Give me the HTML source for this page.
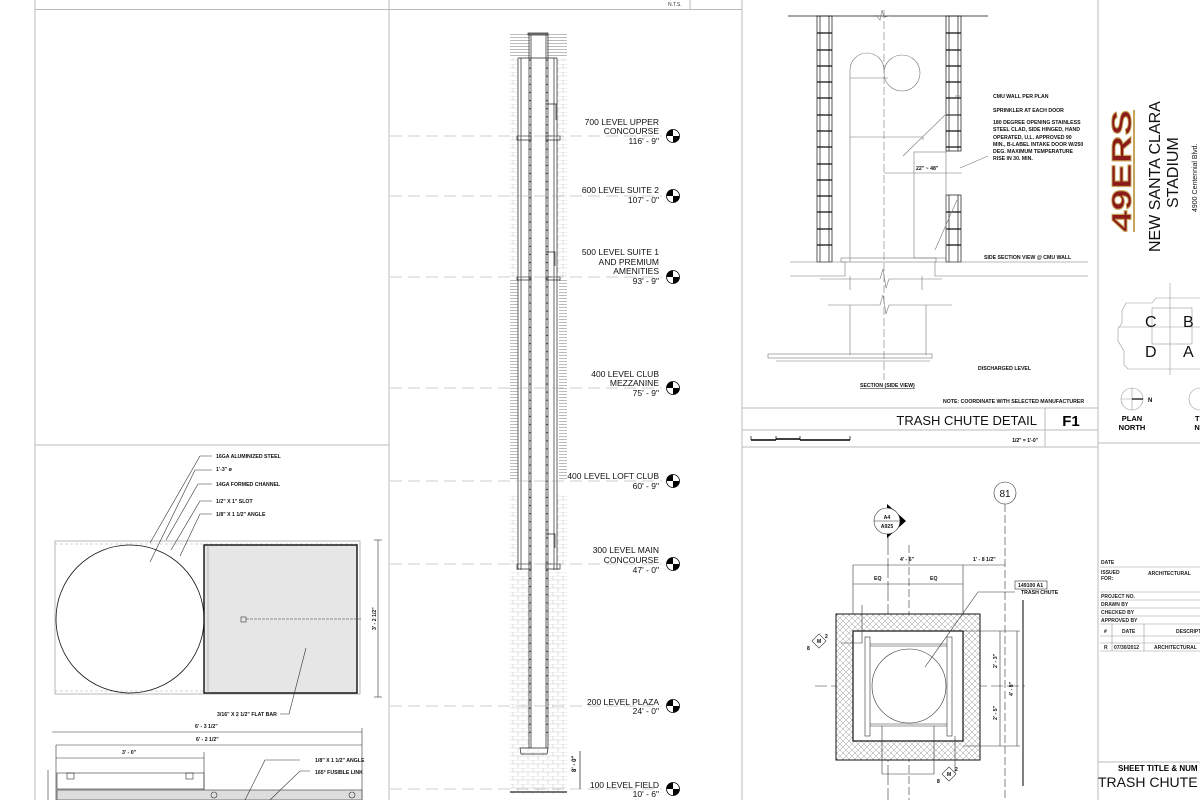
<!DOCTYPE html>
<html><head><meta charset="utf-8">
<style>
html,body{margin:0;padding:0;background:#fff;}
svg{display:block;font-family:"Liberation Sans",Arial,sans-serif;}
.t{font-size:7px;font-weight:bold;fill:#111;}
.lv{font-size:8.5px;fill:#111;}
</style></head><body>
<svg width="1200" height="800" viewBox="0 0 1200 800" xmlns="http://www.w3.org/2000/svg">
<defs>
<pattern id="brick" width="10" height="8" patternUnits="userSpaceOnUse">
<rect width="10" height="8" fill="#fff"/>
<path d="M0 0H10M0 4H10M3 0V4M8 4V8" stroke="#ccc" stroke-width="0.6"/>
</pattern>
<pattern id="hz" width="4" height="3" patternUnits="userSpaceOnUse">
<rect width="4" height="3" fill="#fff"/><path d="M0 1.5H4" stroke="#aaa" stroke-width="0.8"/>
</pattern>
<pattern id="xh" width="6" height="6" patternUnits="userSpaceOnUse">
<rect width="6" height="6" fill="#fff"/><path d="M0 0L6 6M6 0L0 6" stroke="#999" stroke-width="0.5"/>
</pattern>
<g id="lvl">
<circle r="6.5" fill="#fff" stroke="#000" stroke-width="0.8"/>
<path d="M0 0L0 -6.5A6.5 6.5 0 0 0 -6.5 0Z M0 0L0 6.5A6.5 6.5 0 0 0 6.5 0Z" fill="#000"/>
</g>
</defs>

<!-- sheet frame -->
<g stroke="#bbb" stroke-width="1" fill="none">
<line x1="35" y1="0" x2="35" y2="800"/>
<line x1="389" y1="0" x2="389" y2="800"/>
<line x1="742" y1="0" x2="742" y2="800"/>
<line x1="1098" y1="0" x2="1098" y2="800"/>
<line x1="35" y1="9.5" x2="742" y2="9.5"/>
<line x1="35" y1="445" x2="389" y2="445"/>
<line x1="742" y1="408" x2="1098" y2="408"/>
<line x1="742" y1="430" x2="1098" y2="430"/>
<line x1="742" y1="447" x2="1098" y2="447"/>
<line x1="1045" y1="408" x2="1045" y2="447"/>
<line x1="1098" y1="443" x2="1200" y2="443"/>
<line x1="1098" y1="762" x2="1200" y2="762"/>
<line x1="690" y1="0" x2="690" y2="9"/>
</g>
<text x="668" y="6" font-size="5" fill="#333">N.T.S.</text>

<!-- ============ LEFT DETAIL ============ -->
<g fill="none" stroke="#333" stroke-width="0.6">
<rect x="55" y="541" width="305" height="153" stroke="#888"/>
<line x1="55" y1="544" x2="360" y2="544" stroke="#aaa" stroke-dasharray="3 2"/>
<line x1="55" y1="691" x2="360" y2="691" stroke="#aaa" stroke-dasharray="3 2"/>
<circle cx="130" cy="619" r="74" stroke="#111" stroke-width="0.8"/>
<rect x="204" y="545" width="153" height="148" fill="#e6e6e6" stroke="#111" stroke-width="1.4"/>
<line x1="208" y1="545" x2="208" y2="693" stroke="#999"/>
<rect x="241" y="617" width="5" height="5"/>
<line x1="246" y1="619" x2="362" y2="619" stroke-dasharray="3 1"/>
<line x1="378" y1="540" x2="378" y2="697"/>
<line x1="374" y1="540" x2="382" y2="540"/>
<line x1="374" y1="697" x2="382" y2="697"/>
<polyline points="150,543 200,456 212,456"/>
<polyline points="150,562 195,470 212,470"/>
<polyline points="166,540 198,484 212,484"/>
<polyline points="171,550 200,501 212,501"/>
<polyline points="180,556 200,514 212,514"/>
<polyline points="306,648 289,714 280,714"/>
<line x1="52" y1="732" x2="362" y2="732"/>
<line x1="56" y1="745" x2="362" y2="745"/>
<line x1="56" y1="758" x2="204" y2="758"/>
<line x1="56" y1="745" x2="56" y2="800"/>
<line x1="204" y1="752" x2="204" y2="800"/>
<line x1="362" y1="728" x2="362" y2="800"/>
<rect x="57" y="773" width="147" height="16"/>
<rect x="57" y="790" width="305" height="10" fill="#ddd"/>
<rect x="67" y="773" width="7" height="6"/>
<rect x="186" y="773" width="7" height="6"/>
<circle cx="214" cy="795" r="3"/>
<circle cx="352" cy="795" r="3"/>
<polyline points="245,800 265,760 300,760"/>
<polyline points="270,800 300,771 310,771"/>
<line x1="48" y1="770" x2="48" y2="800"/>
</g>
<g class="t">
<text x="216" y="458" style="font-size:5.2px">16GA ALUMINIZED STEEL</text>
<text x="216" y="471" style="font-size:5.2px">1'-3" ø</text>
<text x="216" y="486" style="font-size:5.2px">14GA FORMED CHANNEL</text>
<text x="216" y="503" style="font-size:5.2px">1/2" X 1" SLOT</text>
<text x="216" y="516" style="font-size:5.2px">1/8" X 1 1/2" ANGLE</text>
<text x="217" y="716" style="font-size:5.2px">3/16" X 2 1/2" FLAT BAR</text>
<text x="195" y="728" style="font-size:5.2px">6' - 3 1/2"</text>
<text x="196" y="741" style="font-size:5.2px">6' - 2 1/2"</text>
<text x="122" y="754" style="font-size:5.2px">3' - 0"</text>
<text x="315" y="762" style="font-size:5.2px">1/8" X 1 1/2" ANGLE</text>
<text x="315" y="774" style="font-size:5.2px">165° FUSIBLE LINK</text>
<text transform="translate(376,630) rotate(-90)" style="font-size:5.2px">3' - 2 1/2"</text>
</g>

<!-- ============ MIDDLE CHUTE ============ -->
<g>
<rect x="510" y="33" width="57" height="25" fill="url(#hz)"/>
<rect x="510" y="58" width="8" height="220" fill="url(#brick)"/>
<rect x="557" y="58" width="10" height="220" fill="url(#brick)"/>
<rect x="510" y="280" width="8" height="200" fill="url(#hz)"/>
<rect x="559" y="280" width="8" height="200" fill="url(#hz)"/>
<rect x="510" y="495" width="8" height="70" fill="url(#brick)"/>
<rect x="557" y="495" width="10" height="70" fill="url(#brick)"/>
<rect x="510" y="572" width="57" height="222" fill="url(#brick)"/>
<rect x="530" y="35" width="17" height="715" fill="#fff"/>
</g>
<g fill="none" stroke="#222" stroke-width="0.7">
<rect x="528" y="33" width="20" height="2" fill="#888"/>
<line x1="529" y1="35" x2="529" y2="748"/>
<line x1="531" y1="35" x2="531" y2="748"/>
<line x1="546" y1="35" x2="546" y2="748"/>
<line x1="548" y1="35" x2="548" y2="748"/>
<line x1="518" y1="58" x2="518" y2="570"/>
<line x1="521" y1="58" x2="521" y2="570"/>
<line x1="557" y1="58" x2="557" y2="570"/>
<line x1="554" y1="58" x2="554" y2="570"/>
<line x1="518" y1="58" x2="557" y2="58"/>
<rect x="517" y="136" width="14" height="4"/>
<rect x="546" y="136" width="14" height="4"/>
<rect x="517" y="277" width="14" height="3"/>
<rect x="546" y="277" width="14" height="3"/>
<rect x="517" y="564" width="14" height="5"/>
<rect x="546" y="564" width="14" height="5"/>
<path d="M546 104h10v16M546 252h9v14M546 534h9v14"/>
<path d="M520 748h28l-1 6h-26z"/>
<line x1="510" y1="792" x2="567" y2="792" stroke-width="1.2"/>
<line x1="580" y1="751" x2="580" y2="789"/>
</g>
<g stroke="#333" stroke-width="1.2" stroke-dasharray="0.1 8" stroke-linecap="round">
<line x1="530" y1="60" x2="530" y2="740"/>
<line x1="547" y1="60" x2="547" y2="740"/>
</g>
<g stroke="#999" stroke-width="0.6" stroke-dasharray="12 6">
<line x1="390" y1="136" x2="662" y2="136"/>
<line x1="390" y1="196" x2="662" y2="196"/>
<line x1="390" y1="277" x2="662" y2="277"/>
<line x1="390" y1="388" x2="662" y2="388"/>
<line x1="390" y1="481" x2="662" y2="481"/>
<line x1="390" y1="564" x2="662" y2="564"/>
<line x1="390" y1="706" x2="662" y2="706"/>
<line x1="390" y1="789" x2="662" y2="789"/>
</g>
<g class="lv" text-anchor="end">
<text x="659" y="125">700 LEVEL UPPER</text><text x="659" y="134">CONCOURSE</text><text x="659" y="144">116' - 9"</text>
<text x="659" y="193">600 LEVEL SUITE 2</text><text x="659" y="203">107' - 0"</text>
<text x="659" y="255">500 LEVEL SUITE 1</text><text x="659" y="265">AND PREMIUM</text><text x="659" y="274">AMENITIES</text><text x="659" y="284">93' - 9"</text>
<text x="659" y="377">400 LEVEL CLUB</text><text x="659" y="386">MEZZANINE</text><text x="659" y="396">75' - 9"</text>
<text x="659" y="479">400 LEVEL LOFT CLUB</text><text x="659" y="489">60' - 9"</text>
<text x="659" y="553">300 LEVEL MAIN</text><text x="659" y="563">CONCOURSE</text><text x="659" y="573">47' - 0"</text>
<text x="659" y="705">200 LEVEL PLAZA</text><text x="659" y="714">24' - 0"</text>
<text x="659" y="788">100 LEVEL FIELD</text><text x="659" y="797">10' - 6"</text>
</g>
<use href="#lvl" x="673" y="136"/><use href="#lvl" x="673" y="196"/><use href="#lvl" x="673" y="277"/>
<use href="#lvl" x="673" y="388"/><use href="#lvl" x="673" y="481"/><use href="#lvl" x="673" y="564"/>
<use href="#lvl" x="673" y="706"/><use href="#lvl" x="673" y="789"/>
<text transform="translate(576,772) rotate(-90)" font-size="6" font-weight="bold">8' - 0"</text>

<!-- ============ RIGHT-TOP SECTION ============ -->
<g fill="none" stroke="#111" stroke-width="0.7">
<line x1="788" y1="16" x2="988" y2="16"/>
<rect x="817" y="16" width="15" height="246"/>
<rect x="946" y="16" width="15" height="135"/>
<rect x="946" y="195" width="15" height="67"/>
<line x1="820" y1="16" x2="820" y2="262"/><line x1="829" y1="16" x2="829" y2="262"/>
<line x1="949" y1="16" x2="949" y2="151"/><line x1="958" y1="16" x2="958" y2="151"/>
<line x1="949" y1="195" x2="949" y2="262"/><line x1="958" y1="195" x2="958" y2="262"/>
</g>
<g stroke="#111" stroke-width="1.3">
<path d="M817 33h15M817 50h15M817 66h15M817 82h15M817 98h15M817 115h15M817 131h15M817 147h15M817 164h15M817 180h15M817 196h15M817 212h15M817 229h15M817 245h15"/>
<path d="M946 33h15M946 50h15M946 66h15M946 82h15M946 98h15M946 115h15M946 131h15M946 147h15M946 212h15M946 229h15M946 245h15"/>
</g>
<g fill="none" stroke="#777" stroke-width="0.6">
<path d="M850 262V70A17 17 0 0 1 884 70"/>
<circle cx="902" cy="73" r="18"/>
<line x1="850" y1="78" x2="888" y2="78"/>
<line x1="850" y1="137" x2="923" y2="137"/>
<line x1="923" y1="137" x2="923" y2="140"/>
<rect x="914" y="152" width="32" height="106"/>
<rect x="841" y="258" width="95" height="4"/>
<path d="M790 262H845V276H790M935 262V276H1088M935 262H1088"/>
<path d="M850 276V290M922 276V290"/>
<path d="M820 279H880l3-10 3 19 3-9H942"/>
<path d="M828 305H880l3-10 3 19 3-9H952"/>
<path d="M850 305V355M926 305V355"/>
<rect x="768" y="354" width="164" height="4"/>
<line x1="776" y1="361" x2="930" y2="361"/>
<line x1="884" y1="10" x2="884" y2="380" stroke-dasharray="8 3"/>
<polyline points="876,15 880,20 882,10 884,17 890,16"/>
<polyline points="903,156 945,115 960,115"/>
<polyline points="955,96 960,96"/>
<polyline points="957,200 935,250"/>
<polyline points="960,168 988,156"/>
<line x1="884" y1="173" x2="962" y2="173"/>
</g>
<g class="t">
<text x="993" y="98" style="font-size:5.2px">CMU WALL PER PLAN</text>
<text x="993" y="112" style="font-size:5.2px">SPRINKLER AT EACH DOOR</text>
<text x="993" y="124" style="font-size:5.2px">180 DEGREE OPENING STAINLESS</text>
<text x="993" y="131" style="font-size:5.2px">STEEL CLAD, SIDE HINGED, HAND</text>
<text x="993" y="139" style="font-size:5.2px">OPERATED, U.L. APPROVED 90</text>
<text x="993" y="146" style="font-size:5.2px">MIN., B-LABEL INTAKE DOOR W/250</text>
<text x="993" y="153" style="font-size:5.2px">DEG. MAXIMUM TEMPERATURE</text>
<text x="993" y="160" style="font-size:5.2px">RISE IN 30. MIN.</text>
<text x="916" y="170" style="font-size:5.2px">22" ~ 48"</text>
<text x="984" y="259" style="font-size:5.2px">SIDE SECTION VIEW @ CMU WALL</text>
<text x="978" y="370" style="font-size:5.2px">DISCHARGED LEVEL</text>
<text x="860" y="387" style="font-size:5.2px;text-decoration:underline">SECTION (SIDE VIEW)</text>
<text x="943" y="403" style="font-size:5.2px">NOTE:  COORDINATE WITH SELECTED MANUFACTURER</text>
</g>
<text x="1037" y="425" text-anchor="end" font-size="13" fill="#111">TRASH CHUTE DETAIL</text>
<text x="1071" y="426" text-anchor="middle" font-size="15" font-weight="bold">F1</text>
<text x="1038" y="442" text-anchor="end" font-size="5" font-weight="bold">1/2" = 1'-0"</text>
<g stroke="#000" stroke-width="0.7" fill="none">
<path d="M751 440H776M776 439H800M800 440H850" stroke-width="1.4"/>
<path d="M751 436V440M776 436V440M800 436V440M850 436V440"/>
</g>

<!-- ============ RIGHT-BOTTOM PLAN ============ -->
<g fill="none" stroke="#333" stroke-width="0.6">
<circle cx="1005" cy="493" r="11"/>
<line x1="1005" y1="504" x2="1005" y2="800" stroke-dasharray="8 3"/>
<line x1="888" y1="535" x2="888" y2="800" stroke-dasharray="20 3"/>
<line x1="909" y1="545" x2="909" y2="800" stroke-dasharray="8 3"/>
<line x1="815" y1="686" x2="1025" y2="686" stroke-dasharray="12 4"/>
<line x1="853" y1="565" x2="1005" y2="565"/>
<line x1="853" y1="584" x2="963" y2="584"/>
<line x1="853" y1="565" x2="853" y2="630"/>
<line x1="963" y1="565" x2="963" y2="630"/>
<rect x="836" y="614" width="144" height="146" fill="url(#xh)" stroke="#111" stroke-width="1"/>
<rect x="853" y="631" width="110" height="110" fill="#fff" stroke="#111" stroke-width="1.2"/>
<circle cx="909" cy="686" r="37"/>
<rect x="865" y="637" width="5" height="99"/>
<rect x="947" y="637" width="5" height="99"/>
<line x1="870" y1="644" x2="947" y2="644"/><line x1="870" y1="646" x2="947" y2="646"/>
<line x1="870" y1="724" x2="947" y2="724"/><line x1="870" y1="726" x2="947" y2="726"/>
<path d="M882 726V774H934V726"/>
<line x1="1000" y1="631" x2="1000" y2="746"/>
<line x1="1017" y1="631" x2="1017" y2="746"/>
<line x1="963" y1="631" x2="1020" y2="631"/>
<line x1="963" y1="746" x2="1020" y2="746"/>
<line x1="1023" y1="600" x2="1023" y2="786" stroke="#000" stroke-width="1"/>
<polyline points="925,667 978,592 1015,592"/>
<path d="M862 605V643H841"/>
<path d="M955 736V775"/>
</g>
<path d="M887 504L906 521L887 538Z" fill="#000"/>
<circle cx="887" cy="521" r="13" fill="#fff" stroke="#333" stroke-width="0.6"/>
<line x1="874" y1="521" x2="900" y2="521" stroke="#333" stroke-width="0.6"/>
<rect x="1015" y="581" width="32" height="8" fill="#fff" stroke="#333" stroke-width="0.6"/>
<g class="t">
<text x="1005" y="497" text-anchor="middle" style="font-size:10px;font-weight:normal">81</text>
<text x="887" y="519" text-anchor="middle" style="font-size:5.2px">A4</text>
<text x="887" y="528" text-anchor="middle" style="font-size:5.2px">A925</text>
<text x="900" y="561" style="font-size:5.2px">4' - 6"</text>
<text x="973" y="561" style="font-size:5.2px">1' - 8 1/2"</text>
<text x="874" y="580" style="font-size:5.2px">EQ</text>
<text x="930" y="580" style="font-size:5.2px">EQ</text>
<text x="1018" y="587" style="font-size:5.2px">149100 A1</text>
<text x="1021" y="594" style="font-size:5.2px">TRASH CHUTE</text>
<text transform="translate(997,668) rotate(-90)" style="font-size:5.2px">2' - 3"</text>
<text transform="translate(997,720) rotate(-90)" style="font-size:5.2px">2' - 5"</text>
<text transform="translate(1013,696) rotate(-90)" style="font-size:5.2px">4' - 8"</text>
</g>
<g stroke="#333" stroke-width="0.6" fill="#fff">
<rect x="814" y="636" width="10" height="10" transform="rotate(45 819 641)"/>
<rect x="944" y="769" width="10" height="10" transform="rotate(45 949 774)"/>
</g>
<g font-size="5" font-weight="bold">
<text x="817" y="643">M</text><text x="825" y="638">2</text><text x="807" y="650">8</text>
<text x="947" y="776">M</text><text x="955" y="771">2</text><text x="937" y="783">8</text>
</g>

<!-- ============ TITLE BLOCK ============ -->
<text transform="translate(1131,232) rotate(-90)" font-size="28" font-weight="bold" fill="#8b1a1a" stroke="#c8a558" stroke-width="0.9" textLength="122" lengthAdjust="spacingAndGlyphs">49ERS</text>
<line x1="1134" y1="110" x2="1134" y2="232" stroke="#c8a558" stroke-width="2"/>
<text transform="translate(1160,252) rotate(-90)" font-size="16" fill="#111">NEW SANTA CLARA</text>
<text transform="translate(1178,208) rotate(-90)" font-size="16" fill="#111">STADIUM</text>
<text transform="translate(1197,212) rotate(-90)" font-size="7" fill="#111">4900 Centennial Blvd.</text>
<g fill="none" stroke="#999" stroke-width="0.6">
<path d="M1126 303h26l4 -5h44M1126 303l-4 8v12l-4 6v12l6 10v14l4 4h72"/>
<line x1="1170" y1="283" x2="1170" y2="375"/>
<line x1="1118" y1="327" x2="1200" y2="327"/>
<rect x="1152" y="308" width="40" height="36"/>
<circle cx="1132" cy="399" r="11"/>
<line x1="1132" y1="388" x2="1132" y2="410"/><line x1="1121" y1="399" x2="1143" y2="399"/>
<circle cx="1200" cy="399" r="11"/>
</g>
<line x1="1132" y1="399" x2="1143" y2="399" stroke="#000" stroke-width="1.2"/>
<g font-size="16" fill="#111">
<text x="1145" y="327">C</text><text x="1183" y="327">B</text>
<text x="1145" y="357">D</text><text x="1183" y="357">A</text>
</g>
<text x="1148" y="402" font-size="6" font-weight="bold">N</text>
<g font-size="7.5" font-weight="bold" text-anchor="middle">
<text x="1132" y="421">PLAN</text><text x="1132" y="430">NORTH</text>
<text x="1200" y="421">TR</text><text x="1200" y="430">NO</text>
</g>
<g stroke="#999" stroke-width="0.6">
<line x1="1100" y1="567" x2="1200" y2="567"/>
<line x1="1100" y1="592" x2="1200" y2="592"/>
<line x1="1100" y1="600" x2="1200" y2="600"/>
<line x1="1100" y1="608" x2="1200" y2="608"/>
<line x1="1100" y1="616" x2="1200" y2="616"/>
<line x1="1100" y1="624" x2="1200" y2="624"/>
<line x1="1100" y1="636" x2="1200" y2="636"/>
<line x1="1100" y1="643" x2="1200" y2="643"/>
<line x1="1100" y1="651" x2="1200" y2="651"/>
<line x1="1112" y1="624" x2="1112" y2="651"/>
<line x1="1144" y1="624" x2="1144" y2="651"/>
</g>
<g font-size="5" font-weight="bold" fill="#222">
<text x="1101" y="564">DATE</text>
<text x="1101" y="574">ISSUED</text><text x="1101" y="580">FOR:</text>
<text x="1148" y="575">ARCHITECTURAL</text>
<text x="1101" y="598">PROJECT NO.</text>
<text x="1101" y="606">DRAWN BY</text>
<text x="1101" y="614">CHECKED BY</text>
<text x="1101" y="622">APPROVED BY</text>
<text x="1104" y="633">#</text><text x="1122" y="633">DATE</text><text x="1176" y="633">DESCRIPT</text>
<text x="1104" y="649">R</text><text x="1114" y="649">07/30/2012</text><text x="1154" y="649">ARCHITECTURAL</text>
</g>
<text x="1118" y="771" font-size="8" font-weight="bold">SHEET TITLE &amp; NUM</text>
<text x="1098" y="787" font-size="14" fill="#111">TRASH CHUTE D</text>
</svg>
</body></html>
